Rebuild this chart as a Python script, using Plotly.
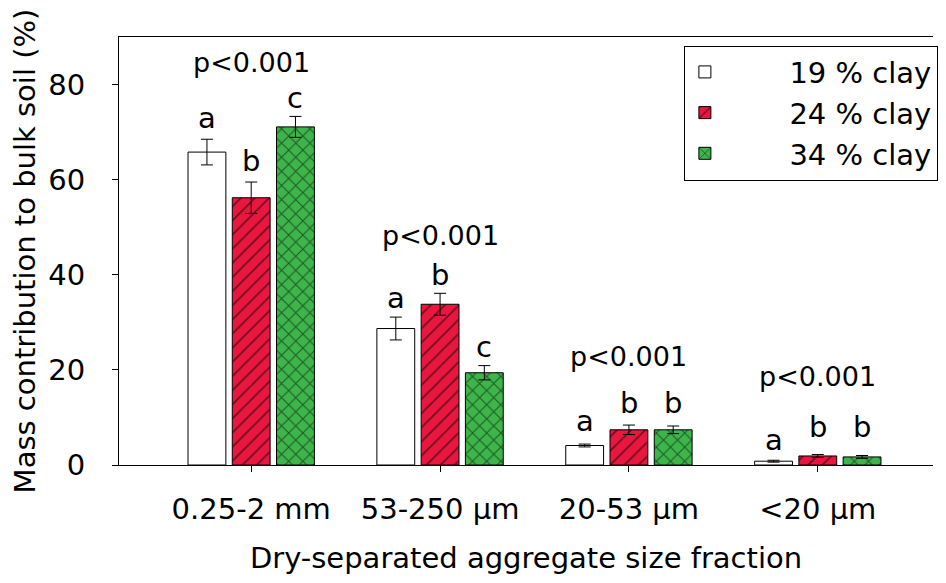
import plotly.graph_objects as go

categories = ["0.25-2 mm", "53-250 µm", "20-53 µm", "<20 µm"]
series_names = ["19 % clay", "24 % clay", "34 % clay"]
clay19 = [65.8, 28.7, 4.1, 0.8]
clay19_err = [2.7, 2.4, 0.3, 0.2]
clay24 = [56.2, 33.8, 7.4, 1.9]
clay24_err = [3.3, 2.3, 1.0, 0.3]
clay34 = [71.1, 19.4, 7.4, 1.7]
clay34_err = [2.2, 1.5, 0.8, 0.3]
letters19 = ["a", "a", "a", "a"]
letters24 = ["b", "b", "b", "b"]
letters34 = ["c", "c", "b", "b"]
pvalue_labels = ["p<0.001", "p<0.001", "p<0.001", "p<0.001"]
pvalue_y = [84.7, 48.2, 22.8, 18.6]
letter_y = [
    [73.0, 35.1, 9.2, 5.3],
    [63.9, 40.0, 13.1, 8.0],
    [77.1, 24.9, 13.1, 8.0],
]
y_ticks = [0, 20, 40, 60, 80]

FONT = "DejaVu Sans"
x_idx = list(range(len(categories)))
slot = 0.234

fig = go.Figure()
styles = [
    dict(color="white", pattern=dict(shape="")),
    dict(color="#E8173F", pattern=dict(shape="/", fgcolor="black", bgcolor="#E8173F",
                                        size=10, solidity=0.18, fillmode="overlay")),
    dict(color="#3DB54A", pattern=dict(shape="x", fgcolor="black", bgcolor="#3DB54A",
                                        size=10, solidity=0.2, fillmode="overlay")),
]
for name, vals, errs, st in zip(series_names, [clay19, clay24, clay34],
                                [clay19_err, clay24_err, clay34_err], styles):
    fig.add_trace(go.Bar(
        x=x_idx, y=vals, name="\u00a0" * 7 + name,
        marker=dict(color=st["color"], pattern=st["pattern"],
                    line=dict(color="black", width=1)),
        error_y=dict(type="data", array=errs, color="black", thickness=1, width=6),
    ))

annotations = []
for j, letters in enumerate([letters19, letters24, letters34]):
    for i, lt in enumerate(letters):
        annotations.append(dict(
            x=i + (j - 1) * slot, y=letter_y[j][i], text=lt, showarrow=False,
            xref="x", yref="y", font=dict(family=FONT, size=29, color="black"),
        ))
for i, lab in enumerate(pvalue_labels):
    annotations.append(dict(
        x=i, y=pvalue_y[i], text=lab, showarrow=False, xref="x", yref="y",
        font=dict(family=FONT, size=27, color="black"),
    ))

fig.update_layout(
    width=930, height=567,
    margin=dict(l=111, r=0, t=29, b=110),
    paper_bgcolor="white", plot_bgcolor="white",
    barmode="group", bargap=0.297, bargroupgap=0.145,
    font=dict(family=FONT, size=29, color="black"),
    annotations=annotations,
    legend=dict(
        x=1.006, y=0.98, xanchor="right", yanchor="top",
        bordercolor="black", borderwidth=1, bgcolor="white",
        font=dict(family=FONT, size=29, color="black"),
        tracegroupgap=0,
    ),
    xaxis=dict(
        range=[-0.7, 3.61], tickmode="array", tickvals=x_idx, ticktext=categories,
        showline=True, linecolor="black", linewidth=1, mirror=True,
        ticks="outside", ticklen=6, tickcolor="black", showgrid=False, zeroline=False,
        ticklabelstandoff=12,
        title=dict(text="Dry-separated aggregate size fraction", standoff=26,
                   font=dict(family=FONT, size=29)),
    ),
    yaxis=dict(
        range=[0, 90], tickmode="array", tickvals=y_ticks,
        showline=True, linecolor="black", linewidth=1, mirror=False,
        ticks="outside", ticklen=6, tickcolor="black", showgrid=False, zeroline=False,
        ticklabelstandoff=21,
        title=dict(text="Mass contribution to bulk soil (%)", standoff=4,
                   font=dict(family=FONT, size=29)),
    ),
)

fig.write_html("out.html")
